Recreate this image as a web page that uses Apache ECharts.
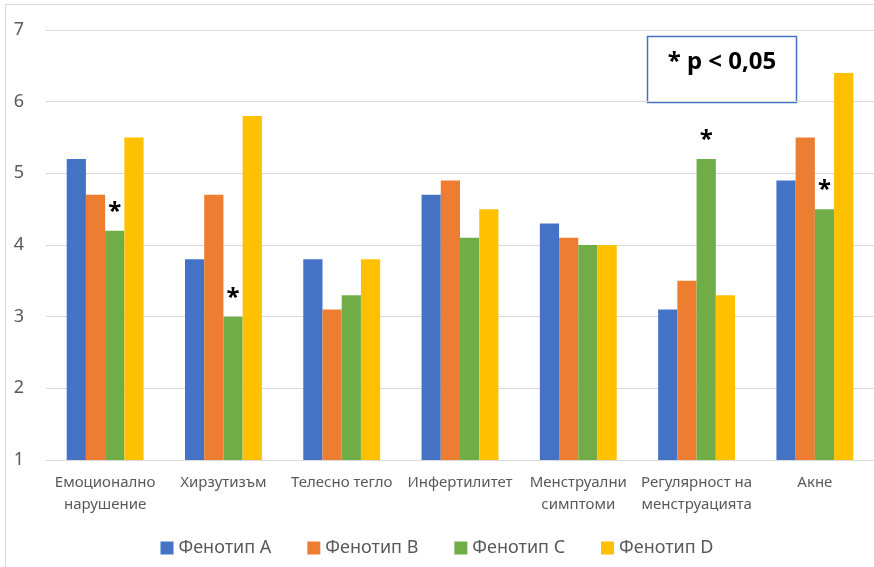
<!DOCTYPE html>
<html>
<head>
<meta charset="utf-8">
<script src="https://cdn.jsdelivr.net/npm/echarts@6/dist/echarts.min.js"></script>
<style>
    html, body { margin: 0; padding: 0; background: #fff; }
    #chart { width: 874px; height: 567px; }
</style>
</head>
<body>
<div id="chart"></div>
<script>
var categories = ['Емоционално\nнарушение', 'Хирзутизъм', 'Телесно тегло', 'Инфертилитет',
    'Менструални\nсимптоми', 'Регулярност на\nменструацията', 'Акне'];
var seriesNames = ['Фенотип A', 'Фенотип B', 'Фенотип C', 'Фенотип D'];
var phenoA = [5.2, 3.8, 3.8, 4.7, 4.3, 3.1, 4.9];
var phenoB = [4.7, 4.7, 3.1, 4.9, 4.1, 3.5, 5.5];
var phenoC = [4.2, 3.0, 3.3, 4.1, 4.0, 5.2, 4.5];
var phenoD = [5.5, 5.8, 3.8, 4.5, 4.0, 3.3, 6.4];
// значими разлики (звездичка над Фенотип C)
var signifC = [true, true, false, false, false, true, true];
var colors = ['#4472C4', '#ED7D31', '#70AD47', '#FFC000'];

var font = 'Noto Sans';
var chart = echarts.init(document.getElementById('chart'));

function makeSeries(name, data, marks) {
    var s = {
        name: name,
        type: 'bar',
        barGap: '0%',
        barCategoryGap: '35%',
        data: data
    };
    if (marks) {
        s.label = {
            show: true,
            position: 'top',
            distance: 7,
            fontFamily: font,
            fontSize: 24,
            fontWeight: 'bold',
            color: '#000',
            formatter: function (p) { return marks[p.dataIndex] ? '*' : ''; }
        };
    }
    return s;
}

chart.setOption({
    color: colors,
    animation: false,
    textStyle: { fontFamily: font },
    grid: { left: 46, right: -2, top: 30, bottom: 107 },
    legend: {
        bottom: 5,
        left: 'center',
        itemWidth: 13,
        itemHeight: 13,
        itemGap: 36,
        icon: 'rect',
        textStyle: { fontFamily: font, fontSize: 18, color: '#595959' },
        data: seriesNames
    },
    xAxis: {
        type: 'category',
        data: categories,
        axisTick: { show: false },
        axisLine: { lineStyle: { color: '#d9d9d9', width: 1 } },
        axisLabel: {
            interval: 0,
            margin: 12,
            fontFamily: font,
            fontSize: 15,
            lineHeight: 22,
            color: '#595959'
        }
    },
    yAxis: {
        type: 'value',
        min: 1,
        max: 7,
        interval: 1,
        axisLine: { show: false },
        axisTick: { show: false },
        splitLine: { lineStyle: { color: '#d9d9d9', width: 1 } },
        axisLabel: { margin: 22, fontFamily: font, fontSize: 18, color: '#595959' }
    },
    series: [
        makeSeries(seriesNames[0], phenoA),
        makeSeries(seriesNames[1], phenoB),
        makeSeries(seriesNames[2], phenoC, signifC),
        makeSeries(seriesNames[3], phenoD)
    ],
    graphic: [
        {
            type: 'rect',
            silent: true,
            shape: { x: 5.5, y: 4.5, width: 900, height: 600 },
            style: { fill: 'none', stroke: '#d9d9d9', lineWidth: 1 }
        },
        {
            type: 'rect',
            shape: { x: 647.5, y: 36.5, width: 149, height: 66 },
            style: { fill: '#fff', stroke: '#4472C4', lineWidth: 1.5 }
        },
        {
            type: 'text',
            x: 722,
            y: 62,
            style: {
                text: '* p < 0,05',
                fontFamily: font,
                fontSize: 24,
                fontWeight: 'bold',
                fill: '#000',
                align: 'center',
                verticalAlign: 'middle'
            }
        }
    ]
});
</script>
</body>
</html>
